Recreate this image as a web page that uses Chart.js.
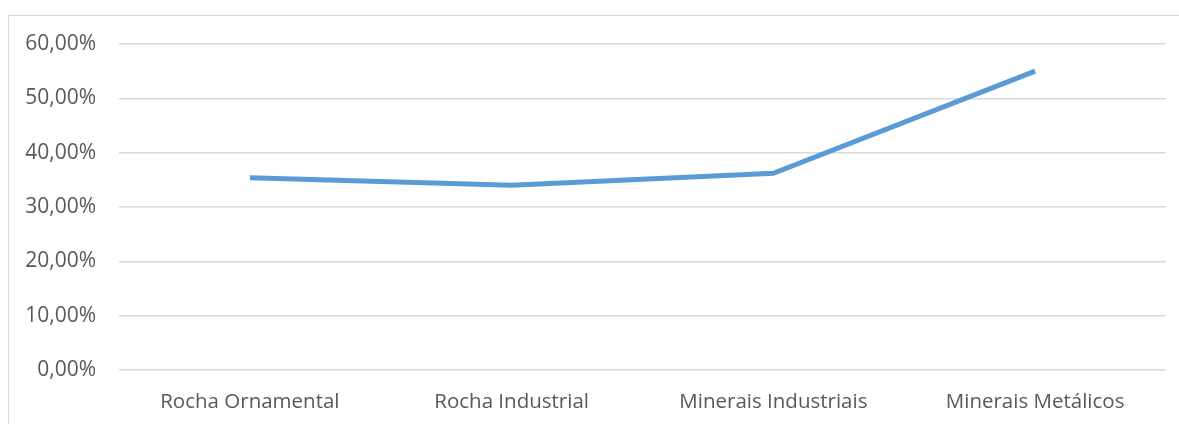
<!DOCTYPE html>
<html>
<head>
<meta charset="utf-8">
<script src="https://cdn.jsdelivr.net/npm/chart.js@4"></script>
<style>
  html, body { margin: 0; padding: 0; background: #fff; overflow: hidden; }
  #frame { position: absolute; left: 8px; top: 15px; width: 1180px; height: 420px; border: 1px solid #D9D9D9; }
  #wrap { position: absolute; left: 9px; top: 16px; width: 1170px; height: 408px; }
</style>
</head>
<body>
<div id="frame"></div>
<div id="wrap"><canvas id="myChart"></canvas></div>
<script>
var labels = ["Rocha Ornamental", "Rocha Industrial", "Minerais Industriais", "Minerais Metálicos"];
var valores = [35.4, 34.0, 36.2, 55.0];
var yTicks = [0, 10, 20, 30, 40, 50, 60];

var data = {
  labels: labels,
  datasets: [
    {
      label: "percentual",
      borderColor: "#5B9BD5",
      backgroundColor: "#5B9BD5",
      borderWidth: 5,
      pointRadius: 0,
      tension: 0,
      data: valores,
    }
  ],
};

var config = {
  type: "line",
  data: data,
  options: {
    responsive: true,
    maintainAspectRatio: false,
    animation: false,
    layout: { padding: { top: 28, right: 13, left: 0, bottom: 0 } },
    plugins: { legend: { display: false }, tooltip: { enabled: false } },
    scales: {
      x: {
        offset: true,
        grid: { display: false, drawTicks: false },
        border: { display: false },
        ticks: { color: "#595959", font: { family: "Open Sans", size: 20.5 }, padding: 20, maxRotation: 0 },
        afterFit: function (s) { s.height = 54; }
      },
      y: {
        min: 0,
        max: 60,
        afterBuildTicks: function (s) { s.ticks = yTicks.map(function (v) { return { value: v }; }); },
        grid: { color: "#D9D9D9", lineWidth: 1.5, drawTicks: false },
        border: { display: false },
        ticks: {
          color: "#595959",
          font: { family: "Open Sans", size: 21 },
          padding: 23,
          callback: function (v) { return v.toFixed(2).replace(".", ",") + "%"; }
        },
        afterFit: function (s) { s.width = 110; s.paddingTop = 0; }
      }
    }
  },
};

var myChart = new Chart(document.getElementById("myChart"), config);
</script>
</body>
</html>
